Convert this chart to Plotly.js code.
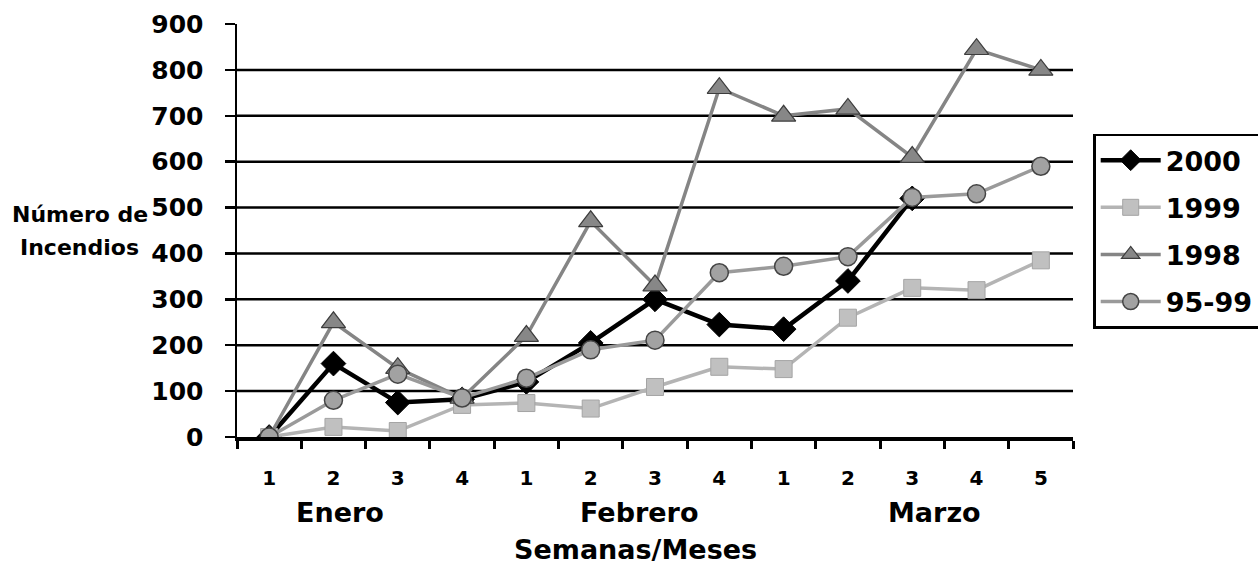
<!DOCTYPE html>
<html>
<head>
<meta charset="utf-8">
<script src="https://cdn.plot.ly/plotly-3.0.1.min.js"></script>
<style>html,body{margin:0;padding:0;background:#fff;}#chart{width:1258px;height:564px;}</style>
</head>
<body>
<div id="chart"></div>
<script>
// ---- data ----
var months = ['Enero','Enero','Enero','Enero','Febrero','Febrero','Febrero','Febrero','Marzo','Marzo','Marzo','Marzo','Marzo'];
var weeks  = ['1','2','3','4','1','2','3','4','1','2','3','4','5'];
var s2000  = [0,160,75,82,120,205,300,245,235,340,520,null,null];
var s1999  = [0,22,13,70,74,62,109,153,148,260,325,320,385];
var s1998  = [0,250,150,85,220,470,330,760,700,715,610,845,800];
var s9599  = [0,80,137,85,128,190,211,358,372,393,522,530,590];
var seriesNames = ['2000','1999','1998','95-99'];
var monthNames = ['Enero','Febrero','Marzo'];
var yTicks = [0,100,200,300,400,500,600,700,800,900];
var gridVals = [100,200,300,400,500,600,700,800];

var cats = weeks.map(function(w,i){ return months[i] + ' ' + w; });
var FONT = 'DejaVu Sans, Arial, sans-serif';
function bold(size){ return {family: FONT, size: size, color: '#000', weight: 'bold'}; }

var traces = [
  {x: cats, y: s2000, name: seriesNames[0], legendgroup: 'a', mode: 'lines+markers',
   line: {color: '#000000', width: 4.5},
   marker: {symbol: 'diamond', size: 19, color: '#000000', line: {color: '#000', width: 1}}},
  {x: cats, y: s1999, name: seriesNames[1], legendgroup: 'b', mode: 'lines+markers',
   line: {color: '#b4b4b4', width: 3.5},
   marker: {symbol: 'square', size: 17, color: '#c0c0c0', line: {color: '#a4a4a4', width: 1}}},
  {x: cats, y: s1998, name: seriesNames[2], legendgroup: 'c', mode: 'lines+markers',
   line: {color: '#858585', width: 3.5},
   marker: {symbol: 'triangle-up', size: 21, color: '#878787', line: {color: '#3c3c3c', width: 1.2}}},
  {x: cats, y: s9599, name: seriesNames[3], legendgroup: 'd', mode: 'lines+markers',
   line: {color: '#9a9a9a', width: 3.5},
   marker: {symbol: 'circle', size: 18, color: '#a2a2a2', line: {color: '#444', width: 1.5}}}
];

var monthPos = [1.1, 5.75, 10.35];
var annotations = monthNames.map(function(m,i){
  return {text: m, x: monthPos[i], xref: 'x', y: -0.182, yref: 'paper', showarrow: false,
          xanchor: 'center', yanchor: 'middle', font: bold(27)};
});
annotations.push({text: 'Semanas/Meses', x: 0.477, xref: 'paper', y: -0.272, yref: 'paper', showarrow: false,
  xanchor: 'center', yanchor: 'middle', font: bold(27)});
annotations.push({text: 'Número de', x: -0.188, xref: 'paper', y: 0.538, yref: 'paper', showarrow: false,
  xanchor: 'center', yanchor: 'middle', font: bold(22)});
annotations.push({text: 'Incendios', x: -0.188, xref: 'paper', y: 0.458, yref: 'paper', showarrow: false,
  xanchor: 'center', yanchor: 'middle', font: bold(22)});

var shapes = gridVals.map(function(v){
  return {type: 'line', xref: 'paper', x0: 0, x1: 1, yref: 'y', y0: v, y1: v, layer: 'below',
          line: {color: '#000', width: 2.5}};
});

var layout = {
  width: 1258, height: 564,
  margin: {l: 237, r: 185, t: 24, b: 127},
  paper_bgcolor: '#fff', plot_bgcolor: '#fff',
  showlegend: true,
  legend: {xref: 'container', yref: 'container', x: 0.869, y: 0.763, xanchor: 'left', yanchor: 'top',
           traceorder: 'grouped',
           bordercolor: '#000', borderwidth: 2.5, bgcolor: '#fff',
           itemwidth: 60, tracegroupgap: 9,
           font: bold(27)},
  xaxis: {type: 'category', categoryorder: 'array', categoryarray: cats,
          tickvals: cats, ticktext: weeks, tickson: 'boundaries',
          ticks: 'outside', ticklen: 8, tickwidth: 3, tickcolor: '#000',
          showline: true, linewidth: 3.5, linecolor: '#000', showgrid: false, zeroline: false,
          range: [-0.5, 12.5], ticklabelstandoff: 20,
          tickfont: bold(20)},
  yaxis: {range: [0, 900], tickvals: yTicks, ticks: 'outside', ticklen: 10, tickwidth: 2.5, tickcolor: '#000',
          showline: true, linewidth: 2.5, linecolor: '#000', showgrid: false, zeroline: false,
          ticklabelstandoff: 16,
          tickfont: bold(25)},
  shapes: shapes,
  annotations: annotations
};

Plotly.newPlot('chart', traces, layout, {displayModeBar: false, staticPlot: true});
</script>
</body>
</html>
